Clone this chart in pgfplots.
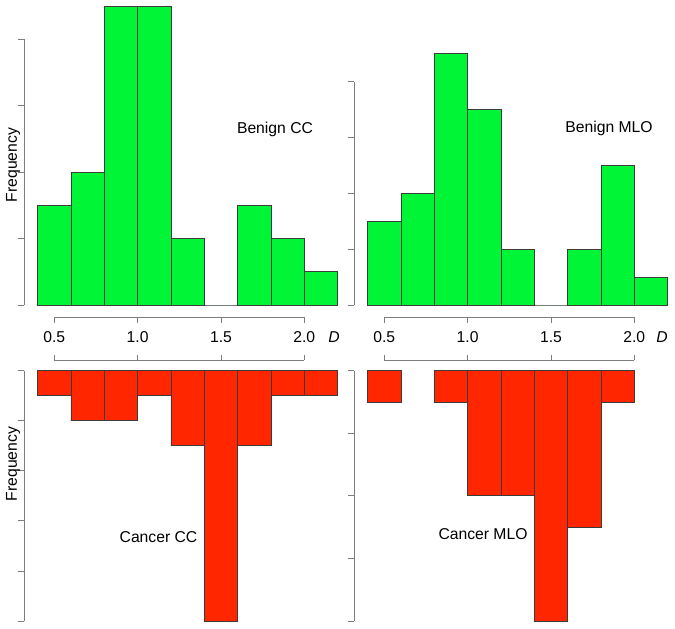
\documentclass[border=0pt]{standalone}
\usepackage{fontspec}
\setmainfont{Liberation Sans}
\usepackage{pgfplots}
\pgfplotsset{compat=1.18}
\definecolor{bengreen}{RGB}{0,245,55}
\definecolor{canred}{RGB}{255,38,0}
\definecolor{edge}{RGB}{60,60,60}
\definecolor{axgray}{RGB}{125,125,125}
\newcommand{\lab}{\fontsize{15.7}{18}\selectfont}
\pgfplotsset{
  rhist/.style={
    scale only axis, clip=false, width=250pt,
    xmin=0.5, xmax=2,
    axis x line=none,
    axis y line*=left, axis y line shift=30.3pt,
    axis line style={axgray, line width=0.8pt, -},
    tick style={axgray, line width=0.8pt},
    tick align=outside, major tick length=6pt,
    yticklabels={},
  },
  tophist/.style={rhist, ymin=0, ymax=8, ytick={0,2,...,8}},
  bothist/.style={rhist, y dir=reverse, ymin=0, height=250.3pt},
  % shared D axis between the two rows (lower line, labels)
  daxis/.style={
    scale only axis, width=250pt, height=43pt, clip=false,
    xmin=0.5, xmax=2, ymin=0, ymax=1,
    axis y line=none, axis x line*=bottom,
    xtick={0.5,1,1.5,2},
    axis line style={axgray, line width=0.8pt, -},
    tick style={axgray, line width=0.8pt},
    tick align=inside, major tick length=5.5pt,
    tick label style={font=\lab, black},
    /pgf/number format/assume math mode=true,
    xticklabel style={anchor=base, yshift=17.3pt,
      /pgf/number format/fixed, /pgf/number format/fixed zerofill, /pgf/number format/precision=1},
  },
  bars/.style={ybar, bar width=0.2, bar shift=0pt, draw=edge, line width=0.8pt},
}
\begin{document}
\begin{tikzpicture}
\path[use as bounding box] (0,0) rectangle (675pt,-629pt);

% Benign CC
\begin{axis}[tophist, at={(54.3pt,-305pt)}, anchor=south west, height=265.7pt]
\addplot[bars, fill=bengreen] coordinates {
(0.5,3) (0.7,4) (0.9,9) (1.1,9) (1.3,2) (1.5,0) (1.7,3) (1.9,2) (2.1,1)
};
\end{axis}

% Benign MLO
\begin{axis}[tophist, at={(384.3pt,-305pt)}, anchor=south west, height=223.3pt]
\addplot[bars, fill=bengreen] coordinates {
(0.5,3) (0.7,4) (0.9,9) (1.1,7) (1.3,2) (1.5,0) (1.7,2) (1.9,5) (2.1,1)
};
\end{axis}

% D axes
\begin{axis}[daxis, at={(54.3pt,-360pt)}, anchor=south west]
\end{axis}
\begin{axis}[daxis, at={(384.3pt,-360pt)}, anchor=south west]
\end{axis}

% Cancer CC
\begin{axis}[bothist, at={(54.3pt,-370.7pt)}, anchor=north west, ymax=10, ytick={0,2,...,10}]
\addplot[bars, fill=canred] coordinates {
(0.5,1) (0.7,2) (0.9,2) (1.1,1) (1.3,3) (1.5,10) (1.7,3) (1.9,1) (2.1,1)
};
\end{axis}

% Cancer MLO
\begin{axis}[bothist, at={(384.3pt,-370.7pt)}, anchor=north west, ymax=8, ytick={0,2,...,8}]
\addplot[bars, fill=canred] coordinates {
(0.5,1) (0.9,1) (1.1,4) (1.3,4) (1.5,8) (1.7,5) (1.9,1)
};
\end{axis}

% upper line of the D axes, ticks pointing down
\foreach \x in {54.3,384.3} {
  \draw[axgray, line width=0.8pt]
    (\x pt,-322.5pt) -- (\x pt,-317pt) -- (\x pt+250pt,-317pt) -- (\x pt+250pt,-322.5pt);
  \draw[axgray, line width=0.8pt] (\x pt+83.33pt,-317pt) -- (\x pt+83.33pt,-322.5pt);
  \draw[axgray, line width=0.8pt] (\x pt+166.67pt,-317pt) -- (\x pt+166.67pt,-322.5pt);
}

\node[font=\lab, anchor=base] at (275pt,-133.3pt) {Benign CC};
\node[font=\lab, anchor=base] at (609pt,-132.7pt) {Benign MLO};
\node[font=\lab, anchor=base] at (158.5pt,-542.7pt) {Cancer CC};
\node[font=\lab, anchor=base] at (483pt,-539pt) {Cancer MLO};
\node[font=\lab, rotate=90] at (13pt,-165pt) {Frequency};
\node[font=\lab, rotate=90] at (13pt,-464pt) {Frequency};
\node[font=\lab\itshape, anchor=base] at (334pt,-342.7pt) {D};
\node[font=\lab\itshape, anchor=base] at (662pt,-342.7pt) {D};
\end{tikzpicture}
\end{document}
